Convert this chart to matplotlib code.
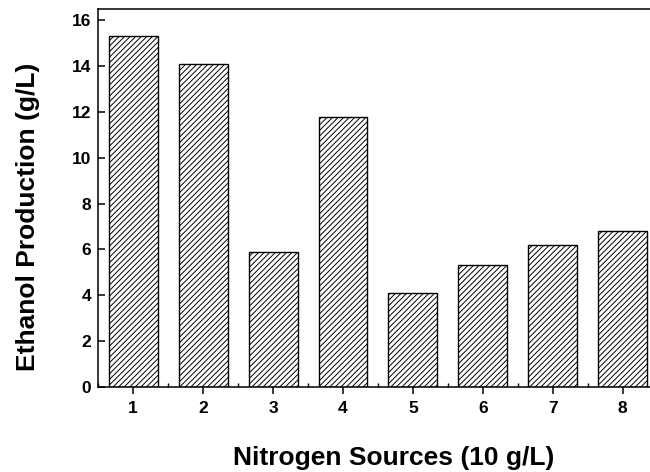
import matplotlib
matplotlib.use("Agg")
import matplotlib.pyplot as plt
from matplotlib.ticker import MultipleLocator

sources = [1, 2, 3, 4, 5, 6, 7, 8]
ethanol = [15.3, 14.1, 5.9, 11.8, 4.1, 5.3, 6.2, 6.8]
yticks = [0, 2, 4, 6, 8, 10, 12, 14, 16]

plt.rcParams['font.family'] = ['Liberation Sans', 'DejaVu Sans']
plt.rcParams['font.weight'] = 'bold'
plt.rcParams['hatch.linewidth'] = 0.7

fig = plt.figure(figsize=(6.5, 4.72), dpi=100)
ax = fig.add_axes([0.1512, 0.1807, 0.8606, 0.8002])

ax.bar(sources, ethanol, width=0.7, color='white', edgecolor='black',
       hatch='//////', linewidth=1.0)

ax.set_xlim(0.5, 8.5)
ax.set_ylim(0, 16.5)
ax.set_xticks(sources)
ax.set_yticks(yticks)
ax.xaxis.set_minor_locator(MultipleLocator(0.5))
ax.tick_params(axis='x', which='major', direction='out', length=5, width=1.1,
               labelsize=12.5, pad=5)
ax.tick_params(axis='x', which='minor', direction='in', length=3, width=1.0)
ax.tick_params(axis='y', which='major', direction='in', length=5, width=1.1,
               labelsize=12.5, pad=5)
for lab in ax.get_xticklabels() + ax.get_yticklabels():
    lab.set_fontweight('bold')
for s in ax.spines.values():
    s.set_linewidth(1.1)

ax.set_xlabel("Nitrogen Sources (10 g/L)", fontsize=19, fontweight='bold',
              va='center')
ax.set_ylabel("Ethanol Production (g/L)", fontsize=19, fontweight='bold',
              va='center')
ax.xaxis.set_label_coords(0.5286, -0.19)
ax.yaxis.set_label_coords(-0.1248, 0.4506)

fig.savefig("out.png", dpi=100)
